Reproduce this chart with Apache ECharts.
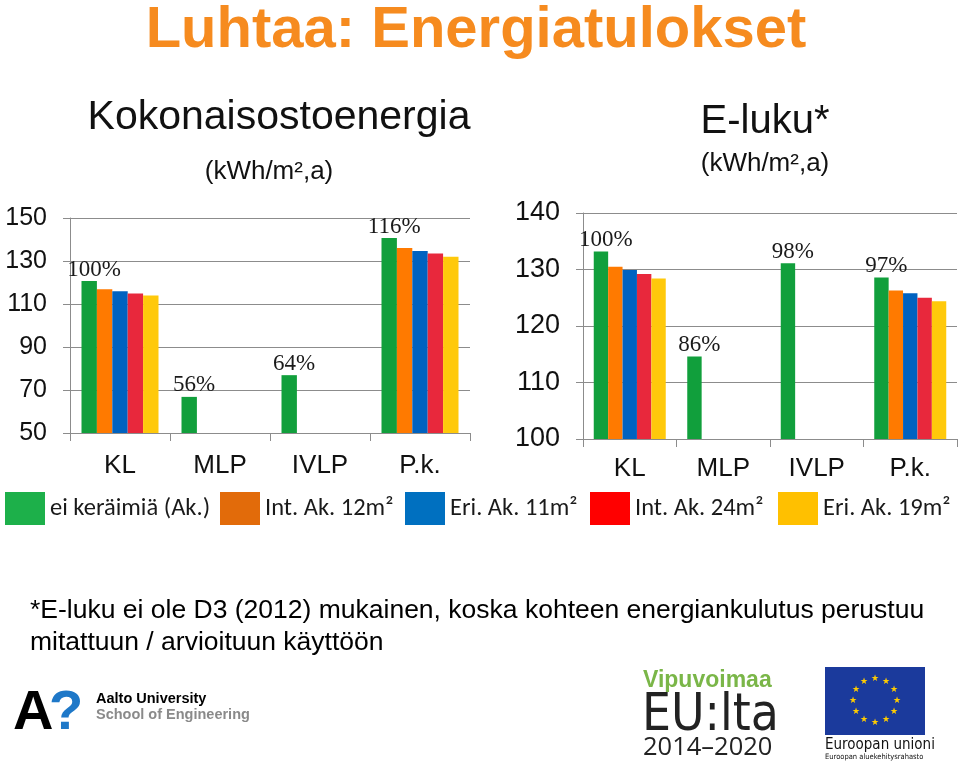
<!DOCTYPE html>
<html>
<head>
<meta charset="utf-8">
<script src="https://cdn.jsdelivr.net/npm/echarts@6/dist/echarts.min.js"></script>
<style>
html,body{margin:0;padding:0;background:#fff;}
#c{width:960px;height:762px;}
</style>
</head>
<body>
<div id="c"></div>
<script>
// ---- data ----
const categories = ['KL', 'MLP', 'IVLP', 'P.k.'];
const seriesNames = ['ei keräimiä (Ak.)', 'Int. Ak. 12m²', 'Eri. Ak. 11m²', 'Int. Ak. 24m²', 'Eri. Ak. 19m²'];

// Kokonaisostoenergia (kWh/m2,a)
const kokAk = [120.7, 66.8, 76.9, 140.7];
const kokInt12 = [116.9, null, null, 136.0];
const kokEri11 = [115.9, null, null, 134.6];
const kokInt24 = [114.9, null, null, 133.5];
const kokEri19 = [113.9, null, null, 132.0];
const kokPct = ['100%', '56%', '64%', '116%'];

// E-luku (kWh/m2,a)
const eAk = [133.2, 114.6, 131.1, 128.6];
const eInt12 = [130.5, null, null, 126.3];
const eEri11 = [129.9, null, null, 125.8];
const eInt24 = [129.2, null, null, 125.0];
const eEri19 = [128.4, null, null, 124.4];
const ePct = ['100%', '86%', '98%', '97%'];

const kokAxis = { min: 50, max: 150, interval: 20 };
const eAxis = { min: 100, max: 140, interval: 10 };

// ---- styles ----
const barColors = ['#119f3c', '#ff7a00', '#0062c0', '#e8283c', '#ffc90b'];
const legendColors = ['#1db04a', '#e26b0a', '#0070c0', '#ff0000', '#ffc000'];
const legendLeft = [5, 220, 405, 590, 778];
const sans = "'Liberation Sans', Arial, sans-serif";
const gridGrey = '#8c8c8c';

const chart = echarts.init(document.getElementById('c'), null, { renderer: 'canvas' });

function xAxisCfg(gi, margin) {
  return {
    type: 'category', gridIndex: gi, data: categories,
    axisLine: { show: true, lineStyle: { color: gridGrey, width: 1 } },
    axisTick: { show: true, length: 8, lineStyle: { color: gridGrey } },
    axisLabel: { fontSize: 26, color: '#111', fontFamily: sans, margin: margin }
  };
}
function yAxisCfg(gi, ax, fs) {
  return {
    type: 'value', gridIndex: gi, min: ax.min, max: ax.max, interval: ax.interval,
    axisLine: { show: true, lineStyle: { color: gridGrey, width: 1 } },
    axisTick: { show: true, length: 7, lineStyle: { color: gridGrey } },
    splitLine: { show: true, lineStyle: { color: gridGrey, width: 1 } },
    axisLabel: { fontSize: fs, color: '#111', fontFamily: sans, margin: 23 }
  };
}

function makeSeries(gi, arrays, pct) {
  return arrays.map((arr, i) => ({
    type: 'bar', name: seriesNames[i], xAxisIndex: gi, yAxisIndex: gi,
    data: arr, barGap: '0%', barCategoryGap: '23%',
    itemStyle: { color: barColors[i] },
    label: i === 0 ? {
      show: true, position: 'top', distance: 0, offset: [5, 0],
      fontFamily: "'Liberation Serif', 'Times New Roman', serif",
      fontSize: 23, color: '#1a1a1a',
      formatter: p => pct[p.dataIndex]
    } : { show: false },
    emphasis: { disabled: true },
    animation: false
  }));
}

const legends = seriesNames.map((n, i) => ({
  left: legendLeft[i], top: 492, padding: 0, orient: 'horizontal',
  itemWidth: 40, itemHeight: 33, icon: 'rect', selectedMode: false,
  data: [{ name: n, itemStyle: { color: legendColors[i] } }],
  textStyle: { fontSize: 24.5, color: '#1a1a1a', padding: [7, 0, 0, 0], fontFamily: "Carlito, 'Liberation Sans Narrow', 'DejaVu Sans Condensed', sans-serif" }
}));

// EU stars
const stars = [];
for (let k = 0; k < 12; k++) {
  const a = k * Math.PI / 6;
  stars.push({
    type: 'text',
    style: { text: '★', x: 875 + 22 * Math.sin(a), y: 701 - 22 * Math.cos(a), fill: '#ffcc00', fontSize: 9, align: 'center', verticalAlign: 'middle', fontFamily: "'DejaVu Sans'" }
  });
}

const option = {
  backgroundColor: '#fff',
  animation: false,
  grid: [
    { left: 70, top: 218, width: 400, height: 215, containLabel: false },
    { left: 583, top: 213, width: 374, height: 226, containLabel: false }
  ],
  xAxis: [xAxisCfg(0, 20), xAxisCfg(1, 17)],
  yAxis: [yAxisCfg(0, kokAxis, 25), yAxisCfg(1, eAxis, 27)],
  legend: legends,
  series: [
    ...makeSeries(0, [kokAk, kokInt12, kokEri11, kokInt24, kokEri19], kokPct),
    ...makeSeries(1, [eAk, eInt12, eEri11, eInt24, eEri19], ePct)
  ],
  graphic: [
    { type: 'text', style: { text: 'Luhtaa: Energiatulokset', x: 476, y: 31, align: 'center', verticalAlign: 'middle', fontSize: 58, fontWeight: 'bold', fill: '#f68b1f', fontFamily: sans } },
    { type: 'text', style: { text: 'Kokonaisostoenergia', x: 279, y: 118, align: 'center', verticalAlign: 'middle', fontSize: 41, fill: '#111', fontFamily: sans } },
    { type: 'text', style: { text: '(kWh/m²,a)', x: 269, y: 172, align: 'center', verticalAlign: 'middle', fontSize: 26, fill: '#111', fontFamily: sans } },
    { type: 'text', style: { text: 'E-luku*', x: 765, y: 122, align: 'center', verticalAlign: 'middle', fontSize: 40, fill: '#111', fontFamily: sans } },
    { type: 'text', style: { text: '(kWh/m²,a)', x: 765, y: 164, align: 'center', verticalAlign: 'middle', fontSize: 26, fill: '#111', fontFamily: sans } },
    { type: 'text', style: { text: '*E-luku ei ole D3 (2012) mukainen, koska kohteen energiankulutus perustuu', x: 30, y: 611, align: 'left', verticalAlign: 'middle', fontSize: 26.5, fill: '#000', fontFamily: sans } },
    { type: 'text', style: { text: 'mitattuun / arvioituun käyttöön', x: 30, y: 643, align: 'left', verticalAlign: 'middle', fontSize: 26.5, fill: '#000', fontFamily: sans } },
    // Aalto logo
    { type: 'text', style: { text: 'A', x: 13, y: 714, align: 'left', verticalAlign: 'middle', fontSize: 56, fontWeight: 'bold', fill: '#000', fontFamily: sans } },
    { type: 'text', style: { text: '?', x: 49, y: 714, align: 'left', verticalAlign: 'middle', fontSize: 56, fontWeight: 'bold', fill: '#1e78c8', fontFamily: sans } },
    { type: 'text', style: { text: 'Aalto University', x: 96, y: 699, align: 'left', verticalAlign: 'middle', fontSize: 14.5, fontWeight: 'bold', fill: '#000', fontFamily: sans } },
    { type: 'text', style: { text: 'School of Engineering', x: 96, y: 715, align: 'left', verticalAlign: 'middle', fontSize: 14.5, fontWeight: 'bold', fill: '#8a8a8a', fontFamily: sans } },
    // Vipuvoimaa EU:lta
    { type: 'text', style: { text: 'Vipuvoimaa', x: 643, y: 681, align: 'left', verticalAlign: 'middle', fontSize: 23, fontWeight: 'bold', fill: '#7ab648', fontFamily: sans } },
    { type: 'text', style: { text: 'EU:lta', x: 642, y: 717, align: 'left', verticalAlign: 'middle', fontSize: 51, fill: '#222', fontFamily: "'DejaVu Sans Condensed', sans-serif" } },
    { type: 'text', style: { text: '2014–2020', x: 643, y: 748, align: 'left', verticalAlign: 'middle', fontSize: 25.5, fill: '#222', fontFamily: "'Open Sans', sans-serif" } },
    // EU flag
    { type: 'rect', shape: { x: 825, y: 667, width: 100, height: 68 }, style: { fill: '#1b3a9c' } },
    ...stars,
    { type: 'text', style: { text: 'Euroopan unioni', x: 825, y: 745, align: 'left', verticalAlign: 'middle', fontSize: 15, fill: '#111', fontFamily: "'DejaVu Sans Condensed', sans-serif" } },
    { type: 'text', style: { text: 'Euroopan aluekehitysrahasto', x: 825, y: 757, align: 'left', verticalAlign: 'middle', fontSize: 7.5, fill: '#111', fontFamily: "'DejaVu Sans Condensed', sans-serif" } }
  ]
};
chart.setOption(option);
</script>
</body>
</html>
